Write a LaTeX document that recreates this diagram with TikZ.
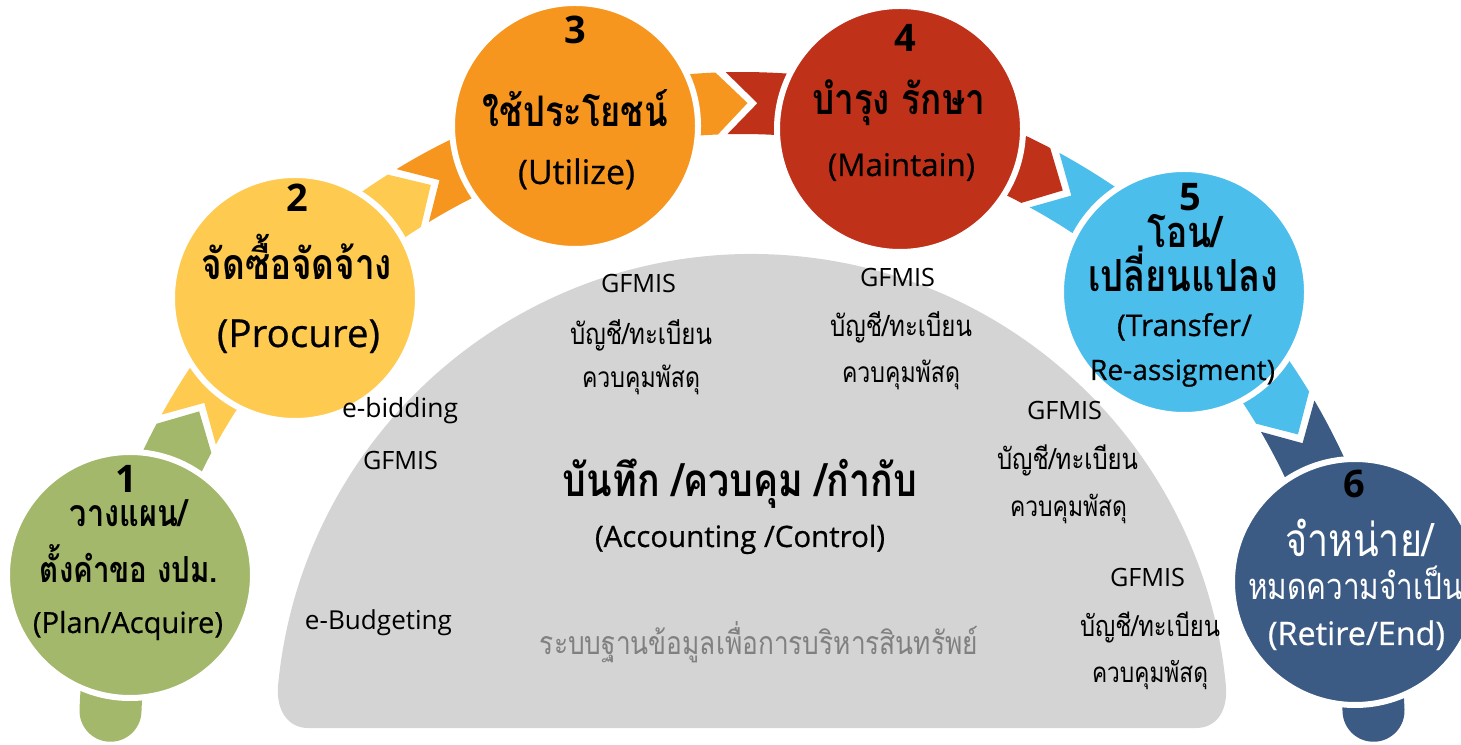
\documentclass[tikz,border=0pt]{standalone}
\usepackage{fontspec}
\setmainfont{Open Sans}
\newfontfamily\thf[Script=Thai]{Loma}
\newfontfamily\semi[FakeBold=0.6]{Open Sans}
\usetikzlibrary{calc}
\definecolor{cgreen}{HTML}{A3B86B}
\definecolor{cyellow}{HTML}{FECA50}
\definecolor{corange}{HTML}{F7961F}
\definecolor{cred}{HTML}{C0311A}
\definecolor{cblue}{HTML}{4BBEEC}
\definecolor{cnavy}{HTML}{3B5B84}
\definecolor{cgray}{HTML}{D4D4D4}
\definecolor{tgray}{HTML}{808080}
\newcommand{\fw}[2]{\resizebox{#1pt}{!}{#2}}
\newcommand{\tw}[2]{\resizebox{#1pt}{!}{\scalebox{1}[1.22]{#2}}}
\tikzset{
  ring/.style={circle, draw=white, line width=6pt, minimum size=246pt, inner sep=0pt},
  num/.style={anchor=base, inner sep=0pt, font=\fontsize{38}{40}\selectfont\bfseries},
  lbl/.style={anchor=base, inner sep=0pt},
}
\begin{document}
\begin{tikzpicture}[x=1pt,y=1pt]
\useasboundingbox (0,0) rectangle (1461,744);
\coordinate (BC) at (742,9);
% grey dome
\fill[cgray] (277.8,55.5) arc[start angle=175,end angle=5,radius=476]
  .. controls (1227,32) and (1216,16) .. (1196,16) -- (308,16)
  .. controls (289,16) and (277,32) .. cycle;
% band pieces
\fill[cgreen] ($(BC)+(177.8:601)$) arc[start angle=357.8,end angle=177.8,radius=31]
  arc[start angle=177.8,end angle=152.0,radius=663] -- ($(BC)+(149.2:632)$)
  -- ($(BC)+(152.0:601)$) arc[start angle=152.0,end angle=177.8,radius=601] -- cycle;
\fill[cyellow] ($(BC)+(151.1:663)$) arc[start angle=151.1,end angle=122.3,radius=663]
  -- ($(BC)+(119.5:632)$) -- ($(BC)+(122.3:601)$)
  arc[start angle=122.3,end angle=151.1,radius=601] -- ($(BC)+(148.3:632)$) -- cycle;
\fill[corange] ($(BC)+(121.4:663)$) arc[start angle=121.4,end angle=92.3,radius=663]
  -- ($(BC)+(89.5:632)$) -- ($(BC)+(92.3:601)$)
  arc[start angle=92.3,end angle=121.4,radius=601] -- ($(BC)+(118.6:632)$) -- cycle;
\fill[cred] ($(BC)+(91.4:663)$) arc[start angle=91.4,end angle=62.3,radius=663]
  -- ($(BC)+(59.5:632)$) -- ($(BC)+(62.3:601)$)
  arc[start angle=62.3,end angle=91.4,radius=601] -- ($(BC)+(88.6:632)$) -- cycle;
\fill[cblue] ($(BC)+(61.4:663)$) arc[start angle=61.4,end angle=31.2,radius=663]
  -- ($(BC)+(28.4:632)$) -- ($(BC)+(31.2:601)$)
  arc[start angle=31.2,end angle=61.4,radius=601] -- ($(BC)+(58.6:632)$) -- cycle;
\fill[cnavy] ($(BC)+(30.3:663)$) arc[start angle=30.3,end angle=2.2,radius=663]
  arc[start angle=2.2,end angle=-177.8,radius=31]
  arc[start angle=2.2,end angle=30.3,radius=601] -- ($(BC)+(27.5:632)$) -- cycle;
% circles
\node[ring, fill=cgreen]  (c1) at (130,169) {};
\node[ring, fill=cyellow] (c2) at (295,446) {};
\node[ring, fill=corange] (c3) at (575,618) {};
\node[ring, fill=cred]    (c4) at (900,615) {};
\node[ring, fill=cblue]   (c5) at (1184,452) {};
\node[ring, fill=cnavy]   (c6) at (1355,162) {};
% circle 1
\node[num] (n1) at (126,251) {1};
\node[lbl] (t1a) at (128.5,217) {\tw{117}{\thf\bfseries วางแผน/}};
\node[lbl] (t1b) at (129,161) {\tw{178}{\thf\bfseries ตั้งคำขอ งปม.}};
\node[lbl] (t1c) at (128,111) {\fw{190}{\semi (Plan/Acquire)}};
% circle 2
\node[num] (n2) at (297,532) {2};
\node[lbl] (t2a) at (297,464) {\tw{190}{\thf\bfseries จัดซื้อจัดจ้าง}};
\node[lbl] (t2b) at (298.5,397) {\fw{163}{\semi (Procure)}};
% circle 3
\node[num] (n3) at (575,700) {3};
\node[lbl] (t3a) at (575.5,617) {\tw{185}{\thf\bfseries ใช้ประโยชน์}};
\node[lbl] (t3b) at (576.5,560) {\fw{117}{\semi (Utilize)}};
% circle 4
\node[num] (n4) at (905,692) {4};
\node[lbl] (t4a) at (898.5,629) {\tw{173}{\thf\bfseries บำรุง รักษา}};
\node[lbl] (t4b) at (901.5,568) {\fw{147}{\semi (Maintain)}};
% circle 5
\node[num] (n5) at (1190,533) {5};
\node[lbl] (t5a) at (1184.5,496) {\tw{75}{\thf\bfseries โอน/}};
\node[lbl] (t5b) at (1183,452) {\tw{190}{\thf\bfseries เปลี่ยนแปลง}};
\node[lbl] (t5c) at (1184.5,408) {\fw{135}{\semi (Transfer/}};
\node[lbl] (t5d) at (1182.5,364) {\fw{185}{\semi Re-assigment)}};
% circle 6
\node[num] (n6) at (1354,246) {6};
\node[lbl, text=white] (t6a) at (1359,187) {\tw{148}{\thf จำหน่าย/}};
\node[lbl, text=white] (t6b) at (1355.5,144) {\tw{215}{\thf หมดความจำเป็น}};
\node[lbl, text=white] (t6c) at (1356.5,99) {\fw{177}{\semi (Retire/End)}};
% dome texts
\node[lbl] (ga) at (638.5,451) {\fw{75}{GFMIS}};
\node[lbl] (ba) at (641,399) {\tw{142}{\thf บัญชี/ทะเบียน}};
\node[lbl] (ka) at (641,356) {\tw{118}{\thf ควบคุมพัสดุ}};
\node[lbl] (eb) at (400,326) {\fw{116}{e-bidding}};
\node[lbl] (gl) at (400.5,274) {\fw{75}{GFMIS}};
\node[lbl] (acc) at (740,247) {\tw{354}{\thf\bfseries บันทึก /ควบคุม /กำกับ}};
\node[lbl] (acce) at (740,197) {\fw{290}{\semi (Accounting /Control)}};
\node[lbl] (ebud) at (378.5,114) {\fw{147}{e-Budgeting}};
\node[lbl, text=tgray] (sys) at (759,89) {\tw{438}{\thf ระบบฐานข้อมูลเพื่อการบริหารสินทรัพย์}};
\node[lbl] (gb) at (897.5,457) {\fw{75}{GFMIS}};
\node[lbl] (bb) at (901,407) {\tw{142}{\thf บัญชี/ทะเบียน}};
\node[lbl] (kb) at (901,361) {\tw{118}{\thf ควบคุมพัสดุ}};
\node[lbl] (gc) at (1064.5,324) {\fw{75}{GFMIS}};
\node[lbl] (bc) at (1067.5,274) {\tw{141}{\thf บัญชี/ทะเบียน}};
\node[lbl] (kc) at (1068.5,227) {\tw{117}{\thf ควบคุมพัสดุ}};
\node[lbl] (gd) at (1147.5,157) {\fw{75}{GFMIS}};
\node[lbl] (bd) at (1150,107) {\tw{140}{\thf บัญชี/ทะเบียน}};
\node[lbl] (kd) at (1150,61) {\tw{116}{\thf ควบคุมพัสดุ}};
\end{tikzpicture}
\end{document}
